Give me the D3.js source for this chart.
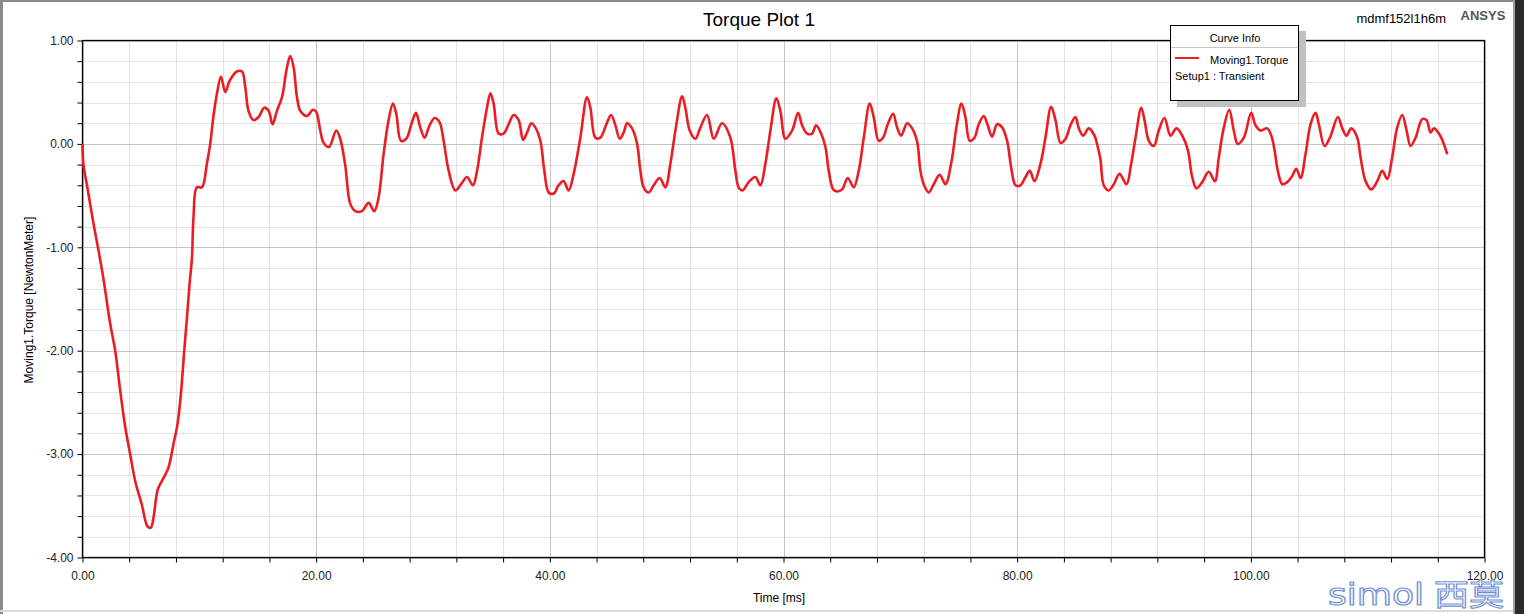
<!DOCTYPE html>
<html><head><meta charset="utf-8">
<script src="https://cdn.jsdelivr.net/npm/d3@7"></script>
<style>
html,body{margin:0;padding:0;background:#fff;}
svg{display:block;font-family:Arial,"Liberation Sans",sans-serif;}
</style></head>
<body>
<svg id="chart" width="1524" height="614"></svg>
<script>
const chartTitle = "Torque Plot 1";
const designName = "mdmf152l1h6m";
const xLabel = "Time [ms]";
const yLabel = "Moving1.Torque [NewtonMeter]";
const seriesName = "Moving1.Torque";
const setupName = "Setup1 : Transient";
const xTicks = [0, 20, 40, 60, 80, 100, 120];
const yTicks = [1, 0, -1, -2, -3, -4];

const timeMs = [0,0.09,0.37,0.94,1.37,1.8,2.37,2.8,3.23,3.66,4.08,4.51,5.08,5.57,5.85,6.08,6.45,6.94,7.36,7.79,8.13,8.42,8.71,8.94,9.16,9.37,9.5,9.79,10.22,10.65,10.93,11.2,11.5,11.85,12.22,12.59,13.2,13.65,13.93,14.21,14.64,15.07,15.56,15.93,16.27,16.64,17.07,17.5,17.78,18.07,18.36,18.64,19.21,19.72,20.0,20.35,20.64,21.1,21.72,22.06,22.49,22.92,23.35,23.92,24.49,24.97,25.34,25.77,26.2,26.57,26.86,27.26,27.71,28.2,28.54,28.91,29.28,29.71,30.14,30.56,30.91,31.34,31.91,32.4,32.91,33.42,33.77,34.19,34.62,34.91,35.19,35.62,36.04,36.47,36.9,37.33,37.71,38.05,38.42,38.76,39.19,39.53,39.9,40.33,40.75,41.18,41.61,42.04,42.61,43.18,43.47,43.9,44.32,44.84,45.24,45.61,45.98,46.32,46.61,47.04,47.47,47.75,48.03,48.46,48.89,49.4,49.89,50.32,50.75,51.32,51.6,51.97,52.46,52.89,53.46,54.03,54.74,55.45,55.88,56.16,56.5,57.02,57.59,58.02,58.45,58.88,59.39,59.73,60.16,60.74,61.25,61.59,62.02,62.45,62.79,63.22,63.59,63.87,64.25,64.59,65.02,65.5,66.01,66.44,66.87,67.38,67.72,68.15,68.52,68.92,69.38,69.72,70.07,70.58,71.01,71.44,71.72,72.0,72.43,72.86,73.37,73.86,74.35,74.8,75.23,75.57,75.94,76.34,76.71,77.14,77.48,77.86,78.28,78.71,79.14,79.49,79.86,80.28,80.71,81.08,81.48,82.0,82.42,82.91,83.28,83.71,84.14,84.56,84.99,85.28,85.65,86.13,86.62,86.9,87.13,87.41,87.84,88.27,88.76,89.36,89.76,90.13,90.62,90.9,91.27,91.7,92.12,92.61,93.12,93.64,94.13,94.61,94.98,95.35,95.84,96.4,96.92,97.26,97.69,98.15,98.54,98.88,99.4,100.03,100.4,100.83,101.4,101.75,102.03,102.31,102.69,103.12,103.54,103.89,104.26,104.68,105.11,105.54,105.82,106.31,106.77,107.45,107.83,108.19,108.6,109.11,109.39,109.82,110.31,110.82,111.25,111.68,112.1,112.53,112.96,113.33,113.67,114.1,114.67,115.04,115.38,115.67,116.1,116.52,116.81];
const torqueNm = [0,-0.21,-0.39,-0.77,-1.03,-1.31,-1.74,-2.0,-2.39,-2.74,-3.0,-3.26,-3.49,-3.70,-3.71,-3.61,-3.34,-3.23,-3.13,-2.90,-2.71,-2.42,-2.0,-1.68,-1.36,-1.1,-0.71,-0.42,-0.42,-0.19,0,0.26,0.48,0.65,0.50,0.61,0.70,0.70,0.55,0.32,0.23,0.26,0.35,0.32,0.19,0.32,0.45,0.74,0.85,0.74,0.45,0.32,0.27,0.33,0.31,0.13,0.01,-0.03,0.13,0.05,-0.21,-0.58,-0.65,-0.65,-0.57,-0.65,-0.52,-0.10,0.23,0.39,0.29,0.03,0.05,0.21,0.30,0.16,0.06,0.18,0.25,0.21,0.03,-0.26,-0.45,-0.39,-0.32,-0.40,-0.26,0.06,0.35,0.49,0.39,0.10,0.10,0.19,0.28,0.23,0.04,0.11,0.20,0.16,0.03,-0.26,-0.47,-0.48,-0.40,-0.36,-0.45,-0.29,0.06,0.45,0.35,0.06,0.06,0.19,0.28,0.18,0.05,0.11,0.20,0.15,0.0,-0.26,-0.42,-0.47,-0.40,-0.33,-0.42,-0.19,0.13,0.46,0.35,0.13,0.05,0.16,0.28,0.05,0.20,0.06,-0.26,-0.42,-0.45,-0.37,-0.32,-0.40,-0.19,0.13,0.44,0.32,0.05,0.13,0.30,0.18,0.10,0.10,0.18,0.10,-0.03,-0.26,-0.44,-0.46,-0.44,-0.33,-0.42,-0.26,0.06,0.39,0.26,0.03,0.06,0.19,0.29,0.16,0.08,0.20,0.15,0.02,-0.26,-0.39,-0.47,-0.39,-0.30,-0.39,-0.19,0.16,0.39,0.26,0.03,0.06,0.19,0.27,0.18,0.07,0.19,0.16,0.03,-0.23,-0.40,-0.40,-0.32,-0.26,-0.36,-0.19,0.06,0.36,0.23,0.01,0.05,0.18,0.26,0.15,0.08,0.15,0.08,-0.03,-0.15,-0.40,-0.45,-0.39,-0.29,-0.39,-0.19,0.06,0.35,0.23,0.03,-0.02,0.13,0.25,0.08,0.15,0.08,-0.06,-0.32,-0.43,-0.37,-0.27,-0.36,-0.13,0.16,0.33,0.13,0.0,0.06,0.30,0.18,0.13,0.15,0.08,-0.06,-0.26,-0.39,-0.37,-0.31,-0.24,-0.33,-0.10,0.19,0.30,0.19,-0.02,0.06,0.26,0.15,0.08,0.15,0.06,-0.13,-0.36,-0.44,-0.36,-0.26,-0.34,-0.13,0.16,0.28,0.13,-0.02,0.06,0.24,0.23,0.11,0.15,0.10,0.0,-0.10];

const svg = d3.select("#chart");
const W = 1524, H = 614;
const m = {left: 82.5, right: 1484.5, top: 40.5, bottom: 557.5};

// outer frame
svg.append("rect").attr("x",0).attr("y",0).attr("width",W).attr("height",H).attr("fill","#fff");
svg.append("rect").attr("x",0).attr("y",0).attr("width",3).attr("height",H).attr("fill","#8a8a8a");
svg.append("rect").attr("x",0).attr("y",0).attr("width",W).attr("height",2).attr("fill","#8a8a8a");
svg.append("rect").attr("x",1513).attr("y",0).attr("width",2).attr("height",H).attr("fill","#a0a0a0");
svg.append("rect").attr("x",1515).attr("y",0).attr("width",9).attr("height",H).attr("fill","#2b2b2b");
svg.append("rect").attr("x",0).attr("y",610).attr("width",1513).attr("height",2).attr("fill","#dcdcdc");

const x = d3.scaleLinear().domain([0,120]).range([m.left, m.right]);
const y = d3.scaleLinear().domain([-4,1]).range([m.bottom, m.top]);

const g = svg.append("g");
// minor grid
const xMinor = d3.range(0, 120.001, 4);
const yMinor = d3.range(-4, 1.001, 0.2);
g.selectAll("line.xm").data(xMinor).enter().append("line")
  .attr("x1",d=>Math.round(x(d))+0.5).attr("x2",d=>Math.round(x(d))+0.5)
  .attr("y1",m.top).attr("y2",m.bottom).attr("stroke","#e3e3e3").attr("stroke-width",1);
g.selectAll("line.ym").data(yMinor).enter().append("line")
  .attr("y1",d=>Math.round(y(d))+0.5).attr("y2",d=>Math.round(y(d))+0.5)
  .attr("x1",m.left).attr("x2",m.right).attr("stroke","#e3e3e3").attr("stroke-width",1);
// major grid
g.selectAll("line.xM").data(xTicks).enter().append("line")
  .attr("x1",d=>Math.round(x(d))+0.5).attr("x2",d=>Math.round(x(d))+0.5)
  .attr("y1",m.top).attr("y2",m.bottom).attr("stroke","#c4c4c4").attr("stroke-width",1);
g.selectAll("line.yM").data(yTicks).enter().append("line")
  .attr("y1",d=>Math.round(y(d))+0.5).attr("y2",d=>Math.round(y(d))+0.5)
  .attr("x1",m.left).attr("x2",m.right).attr("stroke","#c4c4c4").attr("stroke-width",1);

// axes with D3
const xAxis = d3.axisBottom(x).tickValues(xMinor).tickSize(5).tickFormat(d => xTicks.includes(d) ? d.toFixed(2) : "");
const yAxis = d3.axisLeft(y).tickValues(yMinor.map(v=>Math.round(v*10)/10)).tickSize(5).tickFormat(d => yTicks.includes(d) ? d.toFixed(2) : "");
const gx = svg.append("g").attr("transform",`translate(0,${m.bottom})`).call(xAxis);
const gy = svg.append("g").attr("transform",`translate(${m.left},0)`).call(yAxis);
[gx,gy].forEach(a=>{
  a.select(".domain").remove();
  a.selectAll("line").attr("stroke","#000");
  a.selectAll("text").attr("fill","#222").style("font-size","12px").style("font-family","Arial, 'Liberation Sans', sans-serif");
});
gx.selectAll("text").attr("dy","0.71em").attr("y",14);
gy.selectAll("text").attr("x",-9);

// plot frame
svg.append("rect").attr("x",m.left).attr("y",m.top).attr("width",m.right-m.left).attr("height",m.bottom-m.top)
  .attr("fill","none").attr("stroke","#000").attr("stroke-width",1.3);

// curve
const pts = timeMs.map((t,i)=>[t, torqueNm[i]]);
const line = d3.line().x(d=>x(d[0])).y(d=>y(d[1])).curve(d3.curveCatmullRom.alpha(0.5));
svg.append("path").datum(pts).attr("d",line).attr("fill","none")
  .attr("stroke","#ec1c24").attr("stroke-width",2.6).attr("stroke-linejoin","round");

// titles
svg.append("text").attr("x",759).attr("y",26).attr("text-anchor","middle")
  .style("font-size","19px").attr("fill","#000").text(chartTitle);
svg.append("text").attr("x",1446).attr("y",23).attr("text-anchor","end")
  .style("font-size","13px").attr("fill","#000").text(designName);
svg.append("text").attr("x",1483).attr("y",20).attr("text-anchor","middle")
  .style("font-size","13px").style("font-weight","bold").attr("fill","#555").text("ANSYS");
svg.append("text").attr("x",779).attr("y",602).attr("text-anchor","middle")
  .style("font-size","12px").attr("fill","#000").text(xLabel);
svg.append("text").attr("transform","translate(33,300) rotate(-90)").attr("text-anchor","middle")
  .style("font-size","12px").attr("fill","#000").text(yLabel);

// legend
const lg = svg.append("g");
lg.append("rect").attr("x",1177).attr("y",31).attr("width",129).attr("height",76).attr("fill","#c0c0c0");
lg.append("rect").attr("x",1170.5).attr("y",25.5).attr("width",128).attr("height",75).attr("fill","#fff").attr("stroke","#000").attr("stroke-width",1);
lg.append("text").attr("x",1235).attr("y",42).attr("text-anchor","middle").style("font-size","11px").attr("fill","#000").text("Curve Info");
lg.append("line").attr("x1",1171).attr("x2",1298).attr("y1",47.5).attr("y2",47.5).attr("stroke","#c8c8c8");
lg.append("line").attr("x1",1175).attr("x2",1199).attr("y1",58).attr("y2",58).attr("stroke","#ec1c24").attr("stroke-width",2);
lg.append("text").attr("x",1210).attr("y",64).style("font-size","11px").attr("fill","#000").text(seriesName);
lg.append("text").attr("x",1175).attr("y",80).style("font-size","11px").attr("fill","#000").text(setupName);

// watermark
svg.append("text").attr("x",1328).attr("y",605).style("font-size","31px").style("font-family","'DejaVu Sans', Arial, sans-serif")
  .attr("fill","#fff").attr("stroke","#6f8fd6").attr("stroke-width",1.2).attr("textLength",96).attr("lengthAdjust","spacingAndGlyphs").text("simol");
svg.append("text").attr("x",1434).attr("y",605).style("font-size","30px").style("font-family","'Noto Sans CJK SC', sans-serif")
  .attr("fill","#fff").attr("stroke","#6f8fd6").attr("stroke-width",1.1).attr("textLength",70).attr("lengthAdjust","spacingAndGlyphs").text("西莫");
</script>
</body></html>
